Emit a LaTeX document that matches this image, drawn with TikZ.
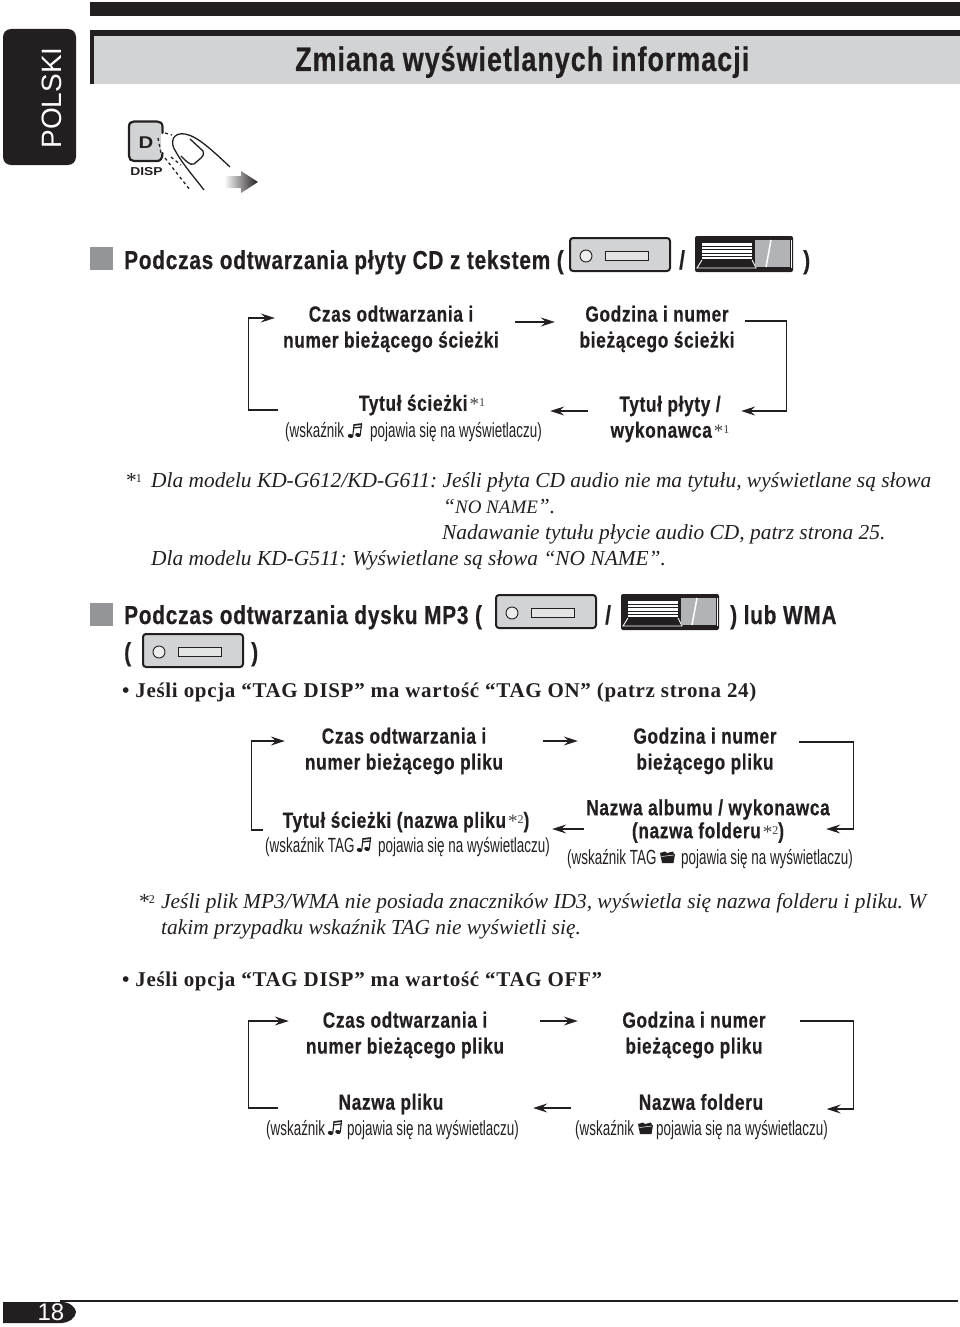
\documentclass[tikz,border=0pt]{standalone}
\usepackage{fontspec}
\usetikzlibrary{arrows.meta}
\setmainfont{Liberation Serif}
\newfontfamily\condT[FakeStretch=0.79,LetterSpace=3,BoldFeatures={FakeBold=0.5}]{Liberation Sans}
\newfontfamily\condH[FakeStretch=0.80,LetterSpace=3,BoldFeatures={FakeBold=0.5}]{Liberation Sans}
\newfontfamily\condA[FakeStretch=0.785,LetterSpace=3,BoldFeatures={FakeBold=0.5}]{Liberation Sans}
\newfontfamily\condB[FakeStretch=0.655]{Liberation Sans}
\newfontfamily\plainsans{Liberation Sans}
\newfontfamily\widesans[FakeStretch=1.2]{Liberation Sans}
\newfontfamily\bulletserif[LetterSpace=3.2]{Liberation Serif}
\definecolor{ink}{HTML}{231F20}
\definecolor{panel}{HTML}{D1D3D4}
\definecolor{panelb}{HTML}{B1B3B6}
\definecolor{sq}{HTML}{939598}
\newcommand{\snote}[1]{{\rmfamily\mdseries\fontsize{19}{19}\selectfont\color{ink!85}\kern2pt*\raisebox{4pt}{\fontsize{12}{12}\selectfont #1}}}
\newcommand{\nname}{{\fontsize{19}{19}\selectfont NO NAME}}
\tikzset{
  flow/.style={draw=ink,line width=1.2pt,-{Stealth[length=14pt,width=9pt,inset=5pt]}},
  flowtext/.style={inner sep=0pt,align=center,text=ink,font=\condA\bfseries\fontsize{22}{26}\selectfont},
  subtext/.style={inner sep=0pt,anchor=west,text=ink,text height=14pt,text depth=4pt,font=\condB\fontsize{20.5}{24}\selectfont},
  head/.style={inner sep=0pt,anchor=west,text=ink,text height=18pt,text depth=6pt,font=\condH\bfseries\fontsize{26}{30}\selectfont},
  foot/.style={inner sep=0pt,anchor=base west,text=ink,font=\frenchspacing\itshape\fontsize{21.4}{24}\selectfont},
  bullet/.style={inner sep=0pt,anchor=base west,text=ink,font=\frenchspacing\bulletserif\bfseries\fontsize{21}{24}\selectfont},
  cdface/.pic={
    \draw[ink,line width=2pt,fill=panel,rounded corners=3pt] (0,0) rectangle (100,33);
    \draw[ink,line width=0.9pt,fill=panel!40] (16,18) circle (6);
    \draw[ink,line width=0.9pt,fill=panel!60] (35,13) rectangle (78,22);
  },
  tapeface/.pic={
    \fill[ink,rounded corners=2pt] (0,0) rectangle (98,36);
    \fill[white] (7,6) rectangle (57,23);
    \foreach \yy in {6,10,13.5,17,20.5,23} \draw[ink,line width=0.9pt] (7,\yy) -- (57,\yy);
    \draw[white,line width=0.9pt] (7,24) -- (2,32) -- (61,32) -- (57,24);
    \fill[panelb] (60,4) rectangle (95,31);
    \draw[white,line width=1.5pt] (71,31) -- (76,4);
    \draw[white,line width=1pt] (96,4) -- (96,32);
  },
  noteicon/.pic={
    \fill[ink,rotate around={-15:(2.5,13)}] (2.5,13) ellipse (2.8 and 2);
    \fill[ink,rotate around={-15:(10,12)}] (10,12) ellipse (2.8 and 2);
    \draw[ink,line width=1.1pt] (4.8,13) -- (6,1.5);
    \draw[ink,line width=1.1pt] (12.3,12) -- (13.5,1);
    \draw[ink,line width=1.7pt] (5.6,2) -- (14,1);
    \draw[ink,line width=1.2pt] (5.4,5) -- (13.5,4);
  },
  foldericon/.pic={
    \fill[ink] (0,2) -- (5,0.5) -- (7,2) -- (13,0.5) -- (14,3) -- (15,3) -- (13.5,12) -- (2,12) -- cycle;
    \draw[white,line width=0.5pt] (1.5,5.5) -- (14,4);
  },
}
\begin{document}
\begin{tikzpicture}[x=1pt,y=-1pt]
\useasboundingbox (0,0) rectangle (960,1327);
% page furniture
\fill[ink] (90,2) rectangle (960,16);
\fill[ink,rounded corners=8pt] (3,29) rectangle (76,165);
\node[inner sep=0pt,rotate=90,text=white,font=\plainsans\fontsize{28}{30}\selectfont] (lang) at (52,98) {POLSKI};
\fill[ink] (90,30) rectangle (960,84);
\fill[panel] (94,36) rectangle (960,84);
\node[inner sep=0pt,anchor=west,text=ink,font=\condT\bfseries\fontsize{34}{38}\selectfont] (title) at (295,62) {Zmiana wyświetlanych informacji};
% button
\fill[panel,rounded corners=5pt] (129,122) rectangle (161,161);
\draw[ink,line width=2.2pt,line cap=round] (162.5,133) -- (162.5,127) .. controls (162.5,123) and (160,121.5) .. (157,121.5) -- (134,121.5) .. controls (131,121.5) and (129,123) .. (129,127) -- (129,156) .. controls (129,159) and (131,161) .. (134,161) -- (157,161) .. controls (160,161) and (162.5,159) .. (162.5,153);
\node[inner sep=0pt,font=\widesans\bfseries\fontsize{17}{18}\selectfont,text=ink] (dkey) at (146,142.5) {D};
\node[inner sep=0pt,font=\widesans\bfseries\fontsize{11.5}{12}\selectfont,text=ink] (disp) at (146.5,172) {DISP};
\draw[ink,line width=1.3pt] (230,167) .. controls (212,150) and (197,136) .. (185,134) .. controls (173,132) and (169,142) .. (176,152) .. controls (184,166) and (195,178) .. (204,190);
\draw[ink,line width=1.3pt] (190,139) -- (203,151) .. controls (204,155) and (203,156) .. (201,158) -- (194,164) .. controls (190,166) and (185,160) .. (181,156);
\draw[ink,line width=1.3pt,dash pattern=on 3pt off 3pt] (165,133) -- (172,135);
\draw[ink,line width=1.3pt,dash pattern=on 3pt off 3pt] (158,138) -- (161,153);
\draw[ink,line width=1.3pt,dash pattern=on 3pt off 3pt] (165,158) -- (190,190);
\draw[ink,line width=1.3pt,dash pattern=on 3pt off 3pt] (171,157) -- (181,165);
\shade[left color=white,right color=ink] (224,176) -- (241,176) -- (241,171) -- (258,182) -- (241,193) -- (241,188) -- (224,188) -- cycle;
% section 1
\fill[sq] (90,247) rectangle (113,270);
\node[head] (h1) at (124,263) {Podczas odtwarzania płyty CD z tekstem (};
\pic at (570,238) {cdface};
\node[head] (h1b) at (679,263) {/};
\pic at (695,236) {tapeface};
\node[head] (h1c) at (803,263) {)};
% flow 1
\node[flowtext,minimum width=218pt] (A1) at (391,329) {Czas odtwarzania i\\numer bieżącego ścieżki};
\node[flowtext,minimum width=158pt] (B1) at (657,329) {Godzina i numer\\bieżącego ścieżki};
\node[flowtext,minimum width=130pt] (C1) at (422,405) {Tytuł ścieżki\snote{1}};
\node[flowtext,minimum width=122pt] (D1) at (670,419) {Tytuł płyty /\\wykonawca\snote{1}};
\node[subtext] (C1a) at (285,432) {(wskaźnik};
\pic at (348,423) {noteicon};
\node[subtext] (C1b) at (370,432) {pojawia się na wyświetlaczu)};
\draw[flow] ([shift={(15,-7)}]A1.east) -- ([shift={(-23,-7)}]B1.west);
\draw[flow] ([shift={(9,-8)}]B1.east) -- ++(41,0) |- ([shift={(10,-8)}]D1.east);
\draw[flow] ([shift={(-21,-8)}]D1.west) -- ([shift={(63,6)}]C1.east);
\draw[flow] ([shift={(-7,-22)}]C1a.west) -| ([shift={(-33,-11)}]A1.west) -- ([shift={(-7,-11)}]A1.west);
% notes 1
\node[foot] (n1m) at (125,487) {*\raisebox{5pt}{\fontsize{12}{12}\selectfont\upshape 1}};
\node[foot] (n1a) at (151,487) {Dla modelu KD-G612/KD-G611: Jeśli płyta CD audio nie ma tytułu, wyświetlane są słowa};
\node[foot] (n1b) at (443,513) {“\nname”.};
\node[foot] (n1c) at (442,539) {Nadawanie tytułu płycie audio CD, patrz strona 25.};
\node[foot] (n1d) at (151,565) {Dla modelu KD-G511: Wyświetlane są słowa “NO NAME”.};
% section 2
\fill[sq] (90,603) rectangle (113,626);
\node[head] (h2) at (124,618) {Podczas odtwarzania dysku MP3 (};
\pic at (496,595) {cdface};
\node[head] (h2b) at (605,618) {/};
\pic at (621,594) {tapeface};
\node[head] (h2c) at (730,618) {) lub WMA};
\node[head] (h2d) at (124,655) {(};
\pic at (143,634) {cdface};
\node[head] (h2e) at (251,655) {)};
\node[bullet] (b1) at (122,697) {• Jeśli opcja “TAG DISP” ma wartość “TAG ON” (patrz strona 24)};
% flow 2
\node[flowtext,minimum width=200pt] (A2) at (404,751) {Czas odtwarzania i\\numer bieżącego pliku};
\node[flowtext,minimum width=144pt] (B2) at (705,751) {Godzina i numer\\bieżącego pliku};
\node[flowtext,minimum width=250pt] (C2) at (406,822) {Tytuł ścieżki (nazwa pliku\snote{2})};
\node[flowtext,minimum width=246pt] (D2) at (708,821) {Nazwa albumu / wykonawca\\[-3pt](nazwa folderu\snote{2})};
\node[subtext] (C2a) at (265,847) {(wskaźnik TAG};
\pic at (357,837) {noteicon};
\node[subtext] (C2b) at (378,847) {pojawia się na wyświetlaczu)};
\node[subtext] (D2a) at (567,859) {(wskaźnik TAG};
\pic at (660,851) {foldericon};
\node[subtext] (D2b) at (681,859) {pojawia się na wyświetlaczu)};
\draw[flow] ([shift={(39,-10)}]A2.east) -- ([shift={(-55,-10)}]B2.west);
\draw[flow] ([shift={(22,-9)}]B2.east) -- ++(54,0) |- ([shift={(-5,8)}]D2.east);
\draw[flow] ([shift={(-1,8)}]D2.west) -- ([shift={(21,7)}]C2.east);
\draw[flow] ([shift={(-2,-17)}]C2a.west) -| ([shift={(-52,-10)}]A2.west) -- ([shift={(-19,-10)}]A2.west);
% notes 2
\node[foot] (n2m) at (138,908) {*\raisebox{5pt}{\fontsize{12}{12}\selectfont\upshape 2}};
\node[foot] (n2a) at (161,908) {Jeśli plik MP3/WMA nie posiada znaczników ID3, wyświetla się nazwa folderu i pliku. W};
\node[foot] (n2b) at (161,934) {takim przypadku wskaźnik TAG nie wyświetli się.};
\node[bullet] (b2) at (122,986) {• Jeśli opcja “TAG DISP” ma wartość “TAG OFF”};
% flow 3
\node[flowtext,minimum width=198pt] (A3) at (405,1035) {Czas odtwarzania i\\numer bieżącego pliku};
\node[flowtext,minimum width=144pt] (B3) at (694,1035) {Godzina i numer\\bieżącego pliku};
\node[flowtext,minimum width=106pt] (C3) at (391,1104) {Nazwa pliku};
\node[flowtext,minimum width=125pt] (D3) at (701,1102) {Nazwa folderu};
\node[subtext] (C3a) at (266,1130) {(wskaźnik};
\pic at (328,1120) {noteicon};
\node[subtext] (C3b) at (347,1130) {pojawia się na wyświetlaczu)};
\node[subtext] (D3a) at (575,1130) {(wskaźnik};
\pic at (638,1122) {foldericon};
\node[subtext] (D3b) at (656,1130) {pojawia się na wyświetlaczu)};
\draw[flow] ([shift={(36,-14)}]A3.east) -- ([shift={(-44,-14)}]B3.west);
\draw[flow] ([shift={(34,-14)}]B3.east) -- ++(53,0) |- ([shift={(63,7)}]D3.east);
\draw[flow] ([shift={(-67,6)}]D3.west) -- ([shift={(89,4)}]C3.east);
\draw[flow] ([shift={(12,-22)}]C3a.west) -| ([shift={(-57,-14)}]A3.west) -- ([shift={(-17,-14)}]A3.west);
% footer
\draw[ink,line width=1.6pt] (60,1301) -- (958,1301);
\fill[ink] (3,1302) -- (62,1302) .. controls (70,1302) and (76,1308) .. (76,1312) .. controls (76,1318) and (68,1323) .. (62,1323) -- (3,1323) -- cycle;
\node[inner sep=0pt,text=white,font=\plainsans\fontsize{24}{24}\selectfont] (pg) at (51,1312) {18};
\end{tikzpicture}
\end{document}
